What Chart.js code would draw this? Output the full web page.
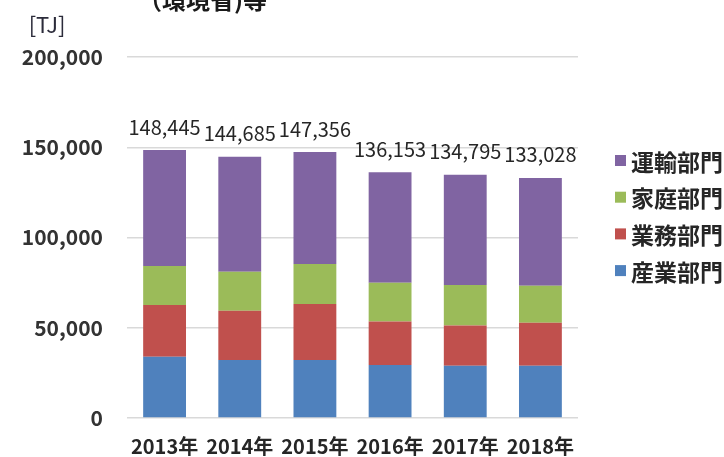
<!DOCTYPE html>
<html>
<head>
<meta charset="utf-8">
<script src="https://cdn.jsdelivr.net/npm/chart.js@4.4.1/dist/chart.umd.min.js"></script>
<style>
  html, body { margin: 0; padding: 0; background: #fff; }
  #wrap { position: relative; width: 724px; height: 457px; }
</style>
</head>
<body>
<div id="wrap"><canvas id="chart"></canvas></div>
<script>
// 年度別エネルギー消費量 [TJ]
const years = ['2013年', '2014年', '2015年', '2016年', '2017年', '2018年'];
const sangyo = [34000, 32100, 32200, 29400, 29000, 29000];   // 産業部門
const gyomu  = [28600, 27300, 31000, 24000, 22200, 23800];   // 業務部門
const katei  = [21600, 21600, 22100, 21600, 22500, 20500];   // 家庭部門
const unyu   = [64245, 63685, 62056, 61153, 61095, 59728];   // 運輸部門
const totals = [148445, 144685, 147356, 136153, 134795, 133028];
const yTicks = [0, 50000, 100000, 150000, 200000];

const FONT = "'Noto Sans CJK JP', 'Noto Sans', sans-serif";

// 合計値をバーの上に表示
const totalLabels = {
    id: 'totalLabels',
    afterDatasetsDraw(chart) {
        const ctx = chart.ctx;
        const meta = chart.getDatasetMeta(chart.data.datasets.length - 1);
        ctx.save();
        ctx.font = `20px ${FONT}`;
        ctx.fillStyle = '#262626';
        ctx.textAlign = 'center';
        ctx.textBaseline = 'middle';
        meta.data.forEach((bar, i) => {
            ctx.fillText(totals[i].toLocaleString('en-US'), bar.x, bar.y - 23);
        });
        ctx.restore();
    }
};

// 凡例・単位・上部の見出し
const extras = {
    id: 'extras',
    afterDraw(chart) {
        const ctx = chart.ctx;
        ctx.save();
        // 見出し（上端で切れている）
        ctx.font = `bold 24px ${FONT}`;
        ctx.fillStyle = '#1a1a1a';
        ctx.textAlign = 'left';
        ctx.textBaseline = 'alphabetic';
        ctx.fillText('（環境省)等', 138, 9);

        // 単位
        ctx.font = `22px ${FONT}`;
        ctx.fillStyle = '#2b2b3a';
        ctx.textAlign = 'center';
        ctx.textBaseline = 'middle';
        ctx.fillText('[TJ]', 47, 25);

        // 凡例 (上から 運輸 → 産業)
        const ds = chart.data.datasets.slice().reverse();
        ctx.font = `bold 23px ${FONT}`;
        ctx.textAlign = 'left';
        ds.forEach((d, i) => {
            const cy = 161 + i * 36.7;
            ctx.fillStyle = d.backgroundColor;
            ctx.fillRect(615, cy - 6, 11, 11);
            ctx.fillStyle = '#262626';
            ctx.fillText(d.label, 631, cy + 1);
        });
        ctx.restore();
    }
};

new Chart(document.getElementById('chart'), {
    type: 'bar',
    data: {
        labels: years,
        datasets: [
            { label: '産業部門', data: sangyo, backgroundColor: '#4F81BD' },
            { label: '業務部門', data: gyomu,  backgroundColor: '#C0504D' },
            { label: '家庭部門', data: katei,  backgroundColor: '#9BBB59' },
            { label: '運輸部門', data: unyu,   backgroundColor: '#8064A2' }
        ]
    },
    options: {
        responsive: true,
        maintainAspectRatio: false,
        animation: false,
        layout: { padding: { top: 57, right: 146, left: 0, bottom: 0 } },
        datasets: { bar: { categoryPercentage: 1.0, barPercentage: 0.57 } },
        plugins: {
            legend: { display: false },
            tooltip: { enabled: false }
        },
        scales: {
            x: {
                stacked: true,
                grid: { display: false },
                border: { display: false },
                ticks: {
                    color: '#262626',
                    padding: 10,
                    maxRotation: 0,
                    autoSkip: false,
                    font: { family: FONT, size: 20, weight: 'bold', lineHeight: 1 }
                },
                afterFit(scale) { scale.height = 39; }
            },
            y: {
                stacked: true,
                min: 0,
                max: 200000,
                afterBuildTicks(scale) { scale.ticks = yTicks.map(v => ({ value: v })); },
                grid: { color: '#d9d9d9', lineWidth: 1.5, drawTicks: false },
                border: { display: false },
                ticks: {
                    color: '#333',
                    padding: 24,
                    font: { family: FONT, size: 21, weight: 'bold' },
                    callback: v => v.toLocaleString('en-US')
                },
                afterFit(scale) { scale.width = 127; }
            }
        }
    },
    plugins: [totalLabels, extras]
});
</script>
</body>
</html>
